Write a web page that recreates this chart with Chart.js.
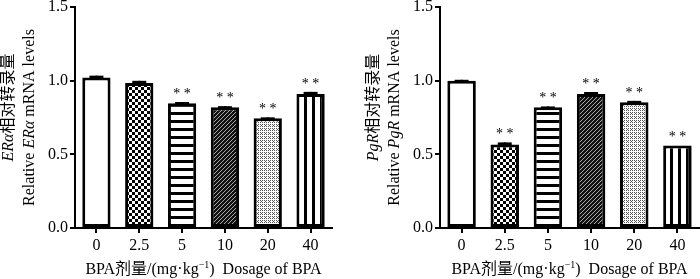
<!DOCTYPE html>
<html lang="zh">
<head>
<meta charset="UTF-8">
<title>ERα / PgR</title>
<script src="https://cdn.jsdelivr.net/npm/chart.js"></script>
<style>
  body { margin: 0; background: #fff; }
  .pai { display: flex; width: 700px; height: 279px; }
  canvas { display: block; }
</style>
</head>
<body>
<div class="pai">
  <canvas id="graficoEr" width="350" height="279"></canvas>
  <canvas id="graficoPgr" width="350" height="279"></canvas>
</div>

<script>
  // dados
  const doses = ['0', '2.5', '5', '10', '20', '40'];
  const erMeans = [1.022, 0.985, 0.847, 0.82, 0.745, 0.91];
  const erErr = [0.012, 0.014, 0.008, 0.007, 0.006, 0.014];
  const erSig = ['', '', '**', '**', '**', '**'];
  const pgrMeans = [1.0, 0.567, 0.82, 0.91, 0.853, 0.56];
  const pgrErr = [0.006, 0.014, 0.005, 0.013, 0.01, 0];
  const pgrSig = ['', '**', '**', '**', '**', '**'];
  const yTicks = [0, 0.5, 1.0, 1.5];

  const SERIF = "'Liberation Serif', 'Noto Sans CJK SC', serif";

  // padrões das barras
  function tile(w, h, draw) {
    const c = document.createElement('canvas');
    c.width = w; c.height = h;
    const g = c.getContext('2d');
    g.fillStyle = '#fff';
    g.fillRect(0, 0, w, h);
    draw(g);
    return document.createElement('canvas').getContext('2d').createPattern(c, 'repeat');
  }
  function px(g, color, pts) {
    g.fillStyle = color;
    pts.forEach(p => g.fillRect(p[0], p[1], 1, 1));
  }
  const padroes = [
    '#ffffff',
    tile(6, 6, g => { g.fillStyle = '#000'; g.fillRect(0, 0, 3, 3); g.fillRect(3, 3, 3, 3); }),
    tile(1, 8, g => { g.fillStyle = '#000'; g.fillRect(0, 0, 1, 3); }),
    tile(4, 4, g => {
      g.fillStyle = '#111'; g.fillRect(0, 0, 4, 4);
      px(g, '#aaa', [[0, 3], [1, 2], [2, 1], [3, 0]]);
    }),
    tile(4, 4, g => { px(g, '#555', [[0, 0], [2, 0], [1, 1], [2, 2], [0, 2]]); }),
    tile(8, 1, g => { g.fillStyle = '#000'; g.fillRect(0, 0, 3, 1); })
  ];

  // desenha texto girado com trechos de fontes diferentes
  function textoGirado(ctx, cx, cy, trechos) {
    ctx.save();
    ctx.translate(cx, cy);
    ctx.rotate(-Math.PI / 2);
    ctx.textBaseline = 'middle';
    ctx.textAlign = 'left';
    let total = 0;
    trechos.forEach(t => { ctx.font = t[1]; total += ctx.measureText(t[0]).width; });
    let x = -total / 2;
    trechos.forEach(t => {
      ctx.font = t[1];
      ctx.fillText(t[0], x, t[2] || 0);
      x += ctx.measureText(t[0]).width;
    });
    ctx.restore();
  }
  function textoLinha(ctx, cx, cy, trechos) {
    ctx.save();
    ctx.textBaseline = 'middle';
    ctx.textAlign = 'left';
    let total = 0;
    trechos.forEach(t => { ctx.font = t[1]; total += ctx.measureText(t[0]).width; });
    let x = cx - total / 2;
    trechos.forEach(t => {
      ctx.font = t[1];
      ctx.fillText(t[0], x, cy + (t[2] || 0));
      x += ctx.measureText(t[0]).width;
    });
    ctx.restore();
  }

  function montarPlugin(means, errs, sig, gene) {
    return {
      id: 'extras',
      afterDatasetsDraw(chart) {
        const { ctx, chartArea, scales: { x, y } } = chart;
        ctx.save();
        ctx.fillStyle = '#000';
        means.forEach((m, i) => {
          const cx = x.getPixelForValue(i);
          const base = y.getPixelForValue(m);
          const top = y.getPixelForValue(m + errs[i]);
          if (errs[i] > 0) {
            ctx.fillRect(cx - 1, top, 2, base - top);
            ctx.fillRect(cx - 7, top, 14, 3);
          }
          if (sig[i]) {
            ctx.font = '14px ' + SERIF;
            ctx.textAlign = 'center';
            ctx.textBaseline = 'alphabetic';
            ctx.fillText('* *', cx, top - 4);
          }
        });
        ctx.restore();

        const it = "italic 16px 'Liberation Serif', serif";
        const rm = '16px ' + SERIF;
        const mid = (chartArea.top + chartArea.bottom) / 2;
        textoGirado(ctx, chartArea.left - 66, mid - 10, [[gene, it], ['相对转录量', rm]]);
        textoGirado(ctx, chartArea.left - 45, mid, [['Relative ', rm], [gene, it], [' mRNA levels', rm]]);
        textoLinha(ctx, (chartArea.left + chartArea.right) / 2, 270, [
          ['BPA', rm], ['剂量', rm], ['/(mg·kg', rm], ['−1', '10px ' + SERIF, -5], [')  Dosage of BPA', rm]
        ]);
      }
    };
  }

  function criarGrafico(id, means, errs, sig, gene, larguraEixo, padDir) {
    return new Chart(document.getElementById(id), {
      type: 'bar',
      data: {
        labels: doses,
        datasets: [{
          data: means,
          backgroundColor: padroes,
          borderColor: '#000',
          borderWidth: 3,
          borderSkipped: false,
          barPercentage: 0.66,
          categoryPercentage: 1
        }]
      },
      options: {
        responsive: false,
        animation: false,
        layout: { padding: { top: 7, right: padDir, left: 0, bottom: 0 } },
        plugins: { legend: { display: false }, tooltip: { enabled: false } },
        scales: {
          x: {
            grid: { offset: false, drawOnChartArea: false, drawTicks: true, tickLength: 5, color: '#000', lineWidth: 2 },
            border: { color: '#000', width: 2 },
            ticks: { color: '#000', font: { family: SERIF, size: 16 }, padding: 3 },
            afterFit: s => { s.height = 51; s.paddingLeft = 0; s.paddingRight = 0; }
          },
          y: {
            min: 0,
            max: 1.5,
            afterBuildTicks: s => { s.ticks = yTicks.map(v => ({ value: v })); },
            grid: { drawOnChartArea: false, drawTicks: true, tickLength: 5, color: '#000', lineWidth: 2 },
            border: { color: '#000', width: 2 },
            ticks: { color: '#000', font: { family: SERIF, size: 16 }, padding: 2, callback: v => v.toFixed(1) },
            afterFit: s => { s.width = larguraEixo; s.paddingTop = 0; s.paddingBottom = 0; }
          }
        }
      },
      plugins: [montarPlugin(means, errs, sig, gene)]
    });
  }

  criarGrafico('graficoEr', erMeans, erErr, erSig, 'ERα', 75, 18);
  criarGrafico('graficoPgr', pgrMeans, pgrErr, pgrSig, 'PgR', 90, 1);
</script>
</body>
</html>
